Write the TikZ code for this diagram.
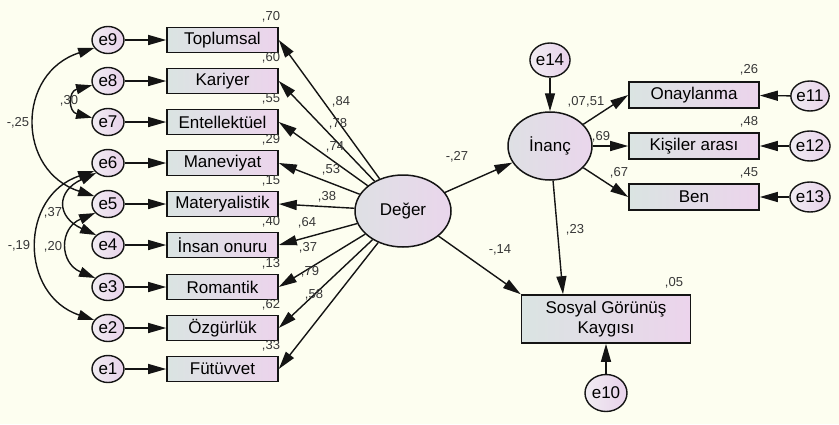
\documentclass[tikz,border=0pt]{standalone}
\usepackage{fontspec}
\setmainfont{Liberation Sans}
\usetikzlibrary{arrows.meta,shapes.geometric}
\definecolor{bgc}{RGB}{253,254,240}
\definecolor{boxl}{RGB}{218,228,226}
\definecolor{boxr}{RGB}{236,212,236}
\definecolor{errl}{RGB}{240,236,242}
\definecolor{errr}{RGB}{232,210,234}
\definecolor{latl}{RGB}{222,224,228}
\definecolor{latr}{RGB}{234,214,236}
\definecolor{lnc}{RGB}{20,20,20}
\definecolor{lblc}{RGB}{55,55,55}
\tikzset{
  obs/.style={draw=lnc, line width=1.6pt, left color=boxl, right color=boxr,
    minimum width=111pt, minimum height=25pt, inner sep=0pt,
    font=\fontsize{17}{19}\selectfont, text=black},
  err/.style={ellipse, draw=lnc, line width=1.4pt, left color=errl, right color=errr,
    minimum width=32pt, minimum height=27pt, inner sep=0pt,
    font=\fontsize{17}{19}\selectfont, text=black},
  errbig/.style={err, minimum width=40pt, minimum height=34pt},
  lat/.style={ellipse, draw=lnc, line width=1.5pt, left color=latl, right color=latr,
    inner sep=0pt, font=\fontsize{17}{19}\selectfont, text=black},
  arr/.style={draw=lnc, line width=1.4pt, -{Triangle[length=18pt,width=10pt]}},
  dbl/.style={draw=lnc, line width=1.4pt, {Triangle[length=16pt,width=10pt]}-{Triangle[length=16pt,width=10pt]}},
  lbl/.style={font=\fontsize{13}{14}\selectfont, text=lblc, inner sep=0pt},
}
\begin{document}
\begin{tikzpicture}[x=1pt,y=-1pt]
\fill[bgc] (0,0) rectangle (839,424);
\useasboundingbox (0,0) rectangle (839,424);

% latent variables
\node[lat, minimum width=96pt, minimum height=72pt] (deg) at (403,211) {Değer};
\node[lat, minimum width=84pt, minimum height=68pt] (inanc) at (550,146) {İnanç};

% left column: errors, indicators, loadings
\foreach \i/\y/\t/\r in {9/40/Toplumsal/{,70}, 8/81/Kariyer/{,60}, 7/122/Entellektüel/{,55},
    6/163/Maneviyat/{,29}, 5/204/Materyalistik/{,15}, 4/245/İnsan onuru/{,40},
    3/287/Romantik/{,13}, 2/328/Özgürlük/{,62}, 1/369/Fütüvvet/{,33}}{
  \node[err] (e\i) at (108,\y) {e\i};
  \node[obs] (o\i) at (222.5,\y) {\t};
  \node[lbl] (r\i) at (271,\y-23) {\r};
  \draw[arr] (e\i) -- (o\i);
  \draw[arr] (deg) -- (o\i.east);
}

% loading labels
\node[lbl] (l9) at (341,102) {,84};
\node[lbl] (l8) at (338,124) {,78};
\node[lbl] (l7) at (335,147) {,74};
\node[lbl] (l6) at (331,170) {,53};
\node[lbl] (l5) at (327,197) {,38};
\node[lbl] (l4) at (307,223) {,64};
\node[lbl] (l3) at (308,248) {,37};
\node[lbl] (l2) at (310,272) {,79};
\node[lbl] (l1) at (314,295) {,58};

% correlations among errors
\draw[dbl] (e9.210) .. controls +(-78,25) and +(-78,-25) .. (e5.150);
\draw[dbl] (e8.195) .. controls +(-24,6) and +(-24,-6) .. (e7.165);
\draw[dbl] (e6.210) .. controls +(-75,25) and +(-75,-25) .. (e2.150);
\draw[dbl] (e6.220) .. controls +(-40,18) and +(-40,-18) .. (e4.140);
\draw[dbl] (e5.215) .. controls +(-36,15) and +(-36,-15) .. (e3.145);
\node[lbl] (c25) at (18,123) {-,25};
\node[lbl] (c30) at (69,101) {,30};
\node[lbl] (c37) at (53,213) {,37};
\node[lbl] (c19) at (19,246) {-,19};
\node[lbl] (c20) at (53,247) {,20};

% right side indicators
\node[obs, minimum width=130pt, minimum height=26pt] (ona) at (694,95) {Onaylanma};
\node[obs, minimum width=130pt, minimum height=26pt] (kis) at (694,146) {Kişiler arası};
\node[obs, minimum width=130pt, minimum height=26pt] (ben) at (694,197) {Ben};
\node[errbig, minimum width=36pt, minimum height=30pt] (e11) at (810,96) {e11};
\node[errbig, minimum width=36pt, minimum height=30pt] (e12) at (810,146) {e12};
\node[errbig, minimum width=36pt, minimum height=30pt] (e13) at (810,197) {e13};
\node[errbig] (e14) at (550,60) {e14};
\node[lbl] (r11) at (749,70) {,26};
\node[lbl] (r12) at (749,122) {,48};
\node[lbl] (r13) at (749,173) {,45};

% outcome
\node[obs, minimum width=169pt, minimum height=48pt, align=center,
  font=\fontsize{17}{20}\selectfont] (sgk) at (606,319) {Sosyal Görünüş\\Kaygısı};
\node[errbig, minimum width=42pt, minimum height=37pt] (e10) at (606,393) {e10};
\node[lbl] (r10) at (674,283) {,05};

% paths
\draw[arr] (e14) -- (inanc);
\draw[arr] (inanc) -- (ona.west);
\draw[arr] (inanc) -- (kis.west);
\draw[arr] (inanc) -- (ben.west);
\draw[arr] (e11) -- (ona);
\draw[arr] (e12) -- (kis);
\draw[arr] (e13) -- (ben);
\draw[arr] (deg) -- (inanc);
\draw[arr] (deg) -- (sgk.north west);
\draw[arr] (inanc) -- ([xshift=-43pt]sgk.north);
\draw[arr] (e10) -- (sgk);

% path labels
\node[lbl] (p27) at (457,157) {-,27};
\node[lbl] (p14) at (500,250) {-,14};
\node[lbl] (p23) at (575,230) {,23};
\node[lbl, anchor=east] (r14) at (586,102) {,07};
\node[lbl, anchor=west] (p51) at (586,102) {,51};
\node[lbl] (p69) at (601,137) {,69};
\node[lbl] (p67) at (619,173) {,67};
\end{tikzpicture}
\end{document}
